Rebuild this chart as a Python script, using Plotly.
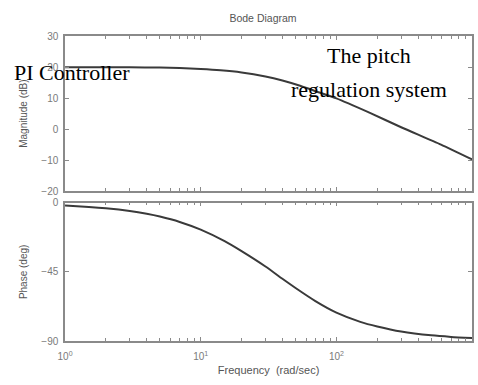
import plotly.graph_objects as go

# Data
mag_freq = [1, 2, 3, 5, 7, 10, 14, 20, 30, 40, 54, 75, 100, 175, 300, 590, 1000]
magnitude_db = [20.0, 20.0, 19.95, 19.85, 19.7, 19.4, 19.0, 18.3, 17.0, 15.7, 14.0, 11.8,
                9.9, 5.3, 0.6, -5.0, -9.8]
phase_freq = [1, 1.5, 2, 3, 4, 5, 7, 10, 15, 20, 30, 40, 50, 70, 100, 150, 200, 300, 500, 700, 1000]
phase_deg = [-1.8, -2.7, -3.6, -5.4, -7.2, -9.0, -12.5, -17.5, -25.0, -31.5, -41.5, -49.5,
             -55.5, -64.0, -71.5, -77.5, -80.5, -83.8, -86.3, -87.3, -88.0]

x_major = [1, 10, 100, 1000]
x_major_text = ["10<sup>0</sup>", "10<sup>1</sup>", "10<sup>2</sup>", "10<sup>3</sup>"]
x_minor = [m * d for d in (1, 10, 100) for m in range(2, 10)]
mag_ticks = [-20, -10, 0, 10, 20, 30]
phase_ticks = [-90, -45, 0]

W, H = 478, 385
frame = "#8a8a8a"
sans = "Liberation Sans, Arial"
serif = "Liberation Serif, Times New Roman"
tickfont = dict(family=sans, size=10, color="#7a7a7a")

fig = go.Figure()
fig.add_trace(go.Scatter(x=mag_freq, y=magnitude_db, mode="lines",
                         line=dict(color="#3a3a3a", width=2, shape="spline", smoothing=0.6),
                         xaxis="x", yaxis="y", showlegend=False))
fig.add_trace(go.Scatter(x=phase_freq, y=phase_deg, mode="lines",
                         line=dict(color="#3a3a3a", width=2, shape="spline", smoothing=0.6),
                         xaxis="x2", yaxis="y2", showlegend=False))

xdom = [58 / W, 472 / W]
common_x = dict(type="log", range=[0, 3], domain=xdom, showgrid=False, zeroline=False,
                showline=True, linecolor=frame, linewidth=1.5, mirror="ticks",
                ticks="inside", ticklen=4, tickcolor=frame, tickwidth=1,
                tickvals=x_major, ticktext=x_major_text, tickfont=tickfont,
                minor=dict(tickvals=x_minor, ticks="inside", ticklen=3, tickcolor=frame, showgrid=False))
common_y = dict(showgrid=False, zeroline=False, showline=True, linecolor=frame, linewidth=1.5,
                mirror="ticks", ticks="inside", ticklen=4, tickcolor=frame, tickwidth=1,
                tickfont=tickfont, ticklabelstandoff=3)

fig.update_layout(
    width=W, height=H, margin=dict(l=0, r=0, t=0, b=0),
    paper_bgcolor="white", plot_bgcolor="white",
    title=dict(text="Bode Diagram", x=263 / W, xanchor="center", xref="container",
               y=1 - 18 / H, yanchor="middle", yref="container",
               font=dict(family=sans, size=10.5, color="#555")),
    xaxis=dict(common_x, anchor="y", showticklabels=False),
    yaxis=dict(common_y, domain=[1 - 191 / H, 1 - 32 / H], range=[-20, 30], tickvals=mag_ticks,
               title=dict(text="Magnitude (dB)", font=dict(family=sans, size=10, color="#555"),
                          standoff=12)),
    xaxis2=dict(common_x, anchor="y2", ticklabelstandoff=5,
                title=dict(text="Frequency  (rad/sec)", font=dict(family=sans, size=11, color="#555"),
                           standoff=6)),
    yaxis2=dict(common_y, domain=[1 - 345 / H, 1 - 203 / H], range=[-90, 0], tickvals=phase_ticks,
                title=dict(text="Phase (deg)", font=dict(family=sans, size=10, color="#555"),
                           standoff=12)),
    annotations=[
        dict(text="PI Controller", x=4 / W, y=1 - 69 / H, xref="paper", yref="paper", showarrow=False,
             xanchor="left", yanchor="middle",
             font=dict(family=serif, size=22, color="black")),
        dict(text="The pitch", x=367 / W, y=1 - 52 / H, xref="paper", yref="paper", showarrow=False,
             xanchor="center", yanchor="middle",
             font=dict(family=serif, size=22, color="black")),
        dict(text="regulation system", x=367 / W, y=1 - 87 / H, xref="paper", yref="paper", showarrow=False,
             xanchor="center", yanchor="middle",
             font=dict(family=serif, size=22, color="black")),
    ],
)

fig.write_html("out.html")
